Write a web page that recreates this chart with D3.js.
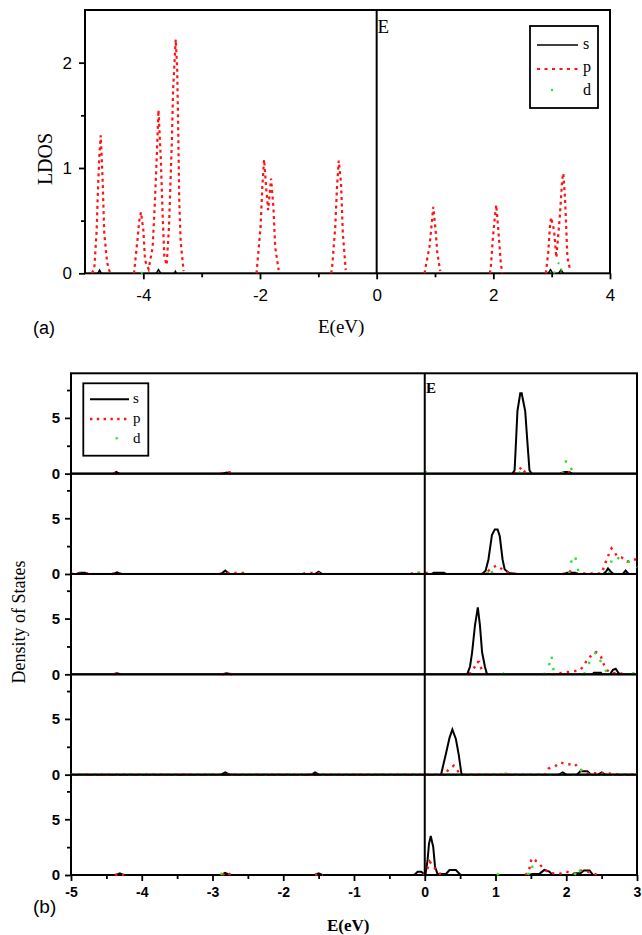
<!DOCTYPE html>
<html>
<head>
<meta charset="utf-8">
<script src="https://cdn.jsdelivr.net/npm/d3@7"></script>
<style>
  body { margin: 0; background: #fff; }
  svg { display: block; }
</style>
</head>
<body>
<div id="chart"></div>
<script>
// ---- panel (a) data: [E, LDOS] points, one array per peak segment ----
var ldosS = [
  [[-4.78, 0], [-4.75, 0.03], [-4.72, 0]],
  [[-3.78, 0], [-3.74, 0.035], [-3.70, 0]],
  [[-3.47, 0], [-3.45, 0.02], [-3.43, 0]],
  [[2.94, 0], [2.98, 0.035], [3.02, 0]],
  [[3.12, 0], [3.16, 0.035], [3.20, 0]]
];
var ldosP = [
  [[-4.88, 0], [-4.84, 0.05], [-4.80, 0.41], [-4.78, 0.76], [-4.755, 1.11], [-4.73, 1.31], [-4.70, 0.92], [-4.67, 0.38], [-4.62, 0.1], [-4.57, 0]],
  [[-4.16, 0], [-4.10, 0.32], [-4.07, 0.5], [-4.04, 0.58], [-4.00, 0.41], [-3.97, 0.12], [-3.91, 0.04], [-3.84, 0.25], [-3.80, 0.7], [-3.77, 1.11], [-3.74, 1.55], [-3.70, 1.08], [-3.67, 0.57], [-3.64, 0.16], [-3.60, 0.08], [-3.56, 0.44], [-3.51, 1.27], [-3.49, 1.74], [-3.445, 2.22], [-3.42, 1.95], [-3.40, 1.3], [-3.385, 0.7], [-3.36, 0.3], [-3.31, 0.02]],
  [[-2.06, 0], [-1.99, 0.44], [-1.96, 0.82], [-1.93, 1.08], [-1.89, 0.78], [-1.86, 0.6], [-1.81, 0.9], [-1.77, 0.63], [-1.74, 0.25], [-1.68, 0.03]],
  [[-0.78, 0], [-0.76, 0.08], [-0.71, 0.44], [-0.68, 0.82], [-0.65, 1.07], [-0.61, 0.85], [-0.58, 0.38], [-0.53, 0.03]],
  [[0.82, 0], [0.905, 0.25], [0.94, 0.45], [0.97, 0.63], [1.01, 0.41], [1.04, 0.19], [1.09, 0.02]],
  [[1.94, 0], [1.96, 0.08], [1.99, 0.32], [2.02, 0.5], [2.05, 0.65], [2.09, 0.38], [2.13, 0.08], [2.16, 0]],
  [[2.90, 0], [2.94, 0.19], [2.97, 0.44], [2.99, 0.53], [3.04, 0.41], [3.08, 0.15], [3.14, 0.54], [3.18, 0.89], [3.20, 0.95], [3.23, 0.7], [3.27, 0.15], [3.32, 0.02]]
];
var ldosD = [
  [[-4.04, 0], [-4.00, 0.015], [-3.96, 0]],
  [[3.04, 0], [3.09, 0.06], [3.13, 0.11], [3.17, 0.03], [3.20, 0]]
];

// ---- panel (b) data: five stacked DOS plots, top to bottom ----
var dosS = [
  [[[-4.40, 0], [-4.36, 0.15], [-4.32, 0]], [[-2.86, 0], [-2.80, 0.1], [-2.74, 0]],
   [[1.24, 0], [1.27, 0.3], [1.29, 2.9], [1.31, 5.6], [1.35, 7.2], [1.37, 7.2], [1.42, 5.6], [1.45, 2.9], [1.48, 0.3], [1.51, 0]],
   [[1.92, 0], [1.96, 0.15], [2.04, 0.15], [2.08, 0]]],
  [[[-4.92, 0], [-4.88, 0.1], [-4.80, 0.1], [-4.76, 0]], [[-4.40, 0], [-4.35, 0.15], [-4.30, 0]], [[-2.88, 0], [-2.82, 0.3], [-2.76, 0]],
   [[-1.55, 0], [-1.50, 0.2], [-1.45, 0]], [[0.10, 0], [0.13, 0.1], [0.27, 0.1], [0.30, 0]],
   [[0.81, 0], [0.86, 0.3], [0.90, 1.3], [0.95, 3.5], [0.99, 4.0], [1.03, 4.0], [1.06, 3.4], [1.10, 1.3], [1.13, 0.4], [1.19, 0.1], [1.30, 0]],
   [[1.98, 0], [2.01, 0.1], [2.13, 0.1], [2.16, 0]], [[2.52, 0], [2.56, 0.2], [2.59, 0.5], [2.63, 0.2], [2.67, 0]], [[2.80, 0], [2.84, 0.3], [2.88, 0]]],
  [[[-4.40, 0], [-4.35, 0.1], [-4.30, 0]], [[-2.86, 0], [-2.80, 0.1], [-2.74, 0]],
   [[0.60, 0], [0.64, 0.7], [0.67, 2.0], [0.71, 4.4], [0.75, 6.0], [0.78, 4.4], [0.81, 2.0], [0.85, 0.7], [0.88, 0]],
   [[2.37, 0], [2.39, 0.15], [2.49, 0.15], [2.51, 0]], [[2.62, 0], [2.66, 0.4], [2.70, 0.5], [2.74, 0.1], [2.78, 0]]],
  [[[-2.88, 0], [-2.82, 0.2], [-2.76, 0]], [[-1.60, 0], [-1.55, 0.2], [-1.50, 0]],
   [[0.23, 0], [0.30, 1.9], [0.35, 3.3], [0.39, 4.05], [0.44, 3.2], [0.48, 1.8], [0.52, 0]],
   [[1.90, 0], [1.95, 0.2], [2.00, 0]], [[2.15, 0], [2.20, 0.3], [2.30, 0.3], [2.35, 0]], [[2.45, 0], [2.50, 0.2], [2.55, 0]]],
  [[[-4.36, 0], [-4.31, 0.15], [-4.26, 0]], [[-2.88, 0], [-2.82, 0.2], [-2.76, 0]], [[-1.55, 0], [-1.50, 0.15], [-1.45, 0]],
   [[-0.15, 0], [-0.10, 0.3], [-0.05, 0.3], [0.01, 0], [0.04, 1.35], [0.06, 2.8], [0.085, 3.5], [0.12, 2.5], [0.145, 0.75], [0.18, 0.1], [0.30, 0.1], [0.35, 0.45], [0.44, 0.45], [0.50, 0.05], [0.52, 0]],
   [[1.48, 0], [1.52, 0.1], [1.62, 0.1], [1.69, 0.45], [1.76, 0.3], [1.80, 0.05], [1.82, 0]],
   [[2.08, 0], [2.12, 0.15], [2.20, 0.15], [2.25, 0.4], [2.33, 0.4], [2.38, 0]]]
];
var dosP = [
  [[[-4.40, 0], [-4.36, 0.1], [-4.30, 0]], [[-2.88, 0], [-2.82, 0.12], [-2.74, 0.12], [-2.70, 0]],
   [[1.26, 0], [1.30, 0.1], [1.37, 0.6], [1.42, 0.1], [1.47, 0.1], [1.50, 0]], [[1.92, 0], [1.97, 0.1], [2.04, 0.15], [2.08, 0]]],
  [[[-5.00, 0], [-4.95, 0.05], [-4.72, 0.05], [-4.68, 0]], [[-4.42, 0], [-4.35, 0.08], [-4.28, 0]], [[-2.90, 0], [-2.82, 0.1], [-2.55, 0.1], [-2.50, 0]],
   [[-1.72, 0], [-1.68, 0.1], [-1.50, 0.1], [-1.45, 0]], [[-0.20, 0], [-0.15, 0.1], [0.04, 0.1], [0.08, 0]],
   [[0.80, 0], [0.86, 0.05], [0.92, 0.4], [1.01, 0.75], [1.10, 0.4], [1.20, 0.05], [1.30, 0]],
   [[1.95, 0], [1.99, 0.05], [2.04, 0.3], [2.10, 0.05], [2.50, 0.05], [2.56, 1.1], [2.59, 1.6], [2.64, 2.3], [2.72, 1.6], [2.78, 1.5], [2.86, 1.1], [2.93, 1.3], [3.00, 1.3]]],
  [[[-4.40, 0], [-4.35, 0.08], [-4.30, 0]], [[-2.86, 0], [-2.80, 0.08], [-2.72, 0]],
   [[0.63, 0], [0.70, 0.6], [0.73, 1.1], [0.77, 1.1], [0.80, 0.5], [0.86, 0]],
   [[1.80, 0], [1.84, 0.05], [2.13, 0.3], [2.20, 0.4], [2.26, 0.9], [2.30, 1.4], [2.34, 1.6], [2.42, 2.0], [2.49, 1.6], [2.53, 0.9], [2.58, 0.35], [2.65, 0.1], [2.75, 0.15], [2.80, 0]]],
  [[[-5.00, 0], [0.28, 0], [0.34, 0.5], [0.41, 0.8], [0.47, 0.3], [0.52, 0], [1.70, 0], [1.75, 0.55], [1.84, 0.75], [1.92, 1.1], [2.02, 0.9], [2.12, 1.0], [2.18, 0.5], [2.30, 0.1], [2.50, 0.15], [2.70, 0.05], [3.00, 0]]],
  [[[-4.38, 0], [-4.32, 0.08], [-4.25, 0]], [[-2.86, 0], [-2.80, 0.25], [-2.74, 0]], [[-1.55, 0], [-1.50, 0.1], [-1.44, 0]],
   [[-0.02, 0], [0.04, 0.6], [0.07, 1.2], [0.12, 0.8], [0.16, 0.45], [0.22, 0.1], [0.30, 0]],
   [[1.42, 0], [1.47, 0.3], [1.51, 1.5], [1.59, 1.2], [1.66, 0.7], [1.75, 0.2], [1.90, 0.1], [2.00, 0.3], [2.10, 0.1], [2.20, 0.4], [2.30, 0.3], [2.40, 0.1], [2.45, 0]]]
];
var dosD = [
  [[[0.00, 0], [0.02, 0.12], [0.04, 0]], [[1.33, 0], [1.37, 0.3], [1.41, 0]], [[1.95, 0], [2.00, 1.2], [2.07, 0.45], [2.10, 0]]],
  [[[-0.10, 0], [-0.07, 0.4], [-0.04, 0]], [[0.88, 0], [0.92, 0.6], [0.96, 0]], [[2.04, 0], [2.08, 1.4], [2.12, 1.7], [2.14, 1.2], [2.18, 0]],
   [[2.60, 0], [2.65, 1.5], [2.70, 1.6], [2.78, 1.2], [2.85, 1.1], [2.92, 1.1], [2.98, 0.8], [3.00, 0.6]]],
  [[[1.10, 0], [1.13, 0.15], [1.16, 0]], [[1.67, 0], [1.70, 0.1], [1.75, 0.6], [1.79, 1.7], [1.83, 0]],
   [[2.25, 0], [2.33, 1.1], [2.42, 2.0], [2.50, 1.0], [2.55, 0.4], [2.60, 0]], [[2.94, 0], [2.97, 0.45], [3.00, 0.2]]],
  [[[-5.00, 0], [1.10, 0], [1.15, 0.1], [1.20, 0], [2.15, 0], [2.20, 0.5], [2.25, 0], [3.00, 0]]],
  [[[-2.88, 0], [-2.85, 0.4], [-2.82, 0]], [[1.02, 0], [1.05, 0.15], [1.08, 0]], [[1.46, 0], [1.51, 0.9], [1.56, 0]], [[2.12, 0], [2.17, 0.7], [2.22, 0]]]
];

// ---- tick values and labels ----
var aTicksX = [-4, -2, 0, 2, 4];
var aMinorX = [-3, -1, 1, 3];
var aTicksY = [0, 1, 2];
var aMinorY = [0.5, 1.5];
var bTicksX = [-5, -4, -3, -2, -1, 0, 1, 2, 3];
var bMinorX = [-4.5, -3.5, -2.5, -1.5, -0.5, 0.5, 1.5, 2.5];
var bTicksY = [0, 5];
var bMinorY = [2.5, 7.5];
var legendNames = ["s", "p", "d"];

var RED = "#ff1414", GREEN = "#2fe02f";
var serif = "'Liberation Serif', 'Times New Roman', serif";
var sans = "'Liberation Sans', Arial, sans-serif";

var svg = d3.select("#chart")
  .append("svg")
  .attr("width", 642)
  .attr("height", 935);

// draw a styled axis and strip its domain line
function drawAxis(g, axis, font, size, weight) {
  g.call(axis);
  g.select(".domain").remove();
  g.selectAll(".tick line").attr("stroke", "#000").attr("stroke-width", 1.8);
  g.selectAll(".tick text")
    .attr("fill", "#000")
    .style("font-family", font)
    .style("font-size", size + "px")
    .style("font-weight", weight || "normal");
}

// =========== panel (a) ===========
var ax = d3.scaleLinear().domain([-5, 4]).range([85, 610]);
var ay = d3.scaleLinear().domain([0, 2.5]).range([273.3, 10]);

var aLine = d3.line().x(d => ax(d[0])).y(d => ay(d[1]));

drawAxis(svg.append("g").attr("transform", "translate(0,273.3)"),
  d3.axisBottom(ax).tickValues(aTicksX).tickSize(6).tickPadding(10).tickFormat(d => String(d)), sans, 17);
drawAxis(svg.append("g").attr("transform", "translate(0,273.3)"),
  d3.axisBottom(ax).tickValues(aMinorX).tickSize(4).tickFormat(""), sans, 17);
drawAxis(svg.append("g").attr("transform", "translate(85,0)"),
  d3.axisLeft(ay).tickValues(aTicksY).tickSize(6).tickPadding(7).tickFormat(d => String(d)), sans, 17);
drawAxis(svg.append("g").attr("transform", "translate(85,0)"),
  d3.axisLeft(ay).tickValues(aMinorY).tickSize(4).tickFormat(""), sans, 17);

// frame and fermi line
svg.append("rect")
  .attr("x", ax(-5)).attr("y", ay(2.5))
  .attr("width", ax(4) - ax(-5)).attr("height", ay(0) - ay(2.5))
  .attr("fill", "none").attr("stroke", "#000").attr("stroke-width", 2);
svg.append("line")
  .attr("x1", ax(0)).attr("x2", ax(0)).attr("y1", ay(2.5)).attr("y2", ay(0))
  .attr("stroke", "#000").attr("stroke-width", 2);

var aG = svg.append("g");
aG.selectAll(".s").data(ldosS).enter().append("path")
  .attr("d", aLine).attr("fill", "none").attr("stroke", "#000").attr("stroke-width", 1.5);
aG.selectAll(".p").data(ldosP).enter().append("path")
  .attr("d", aLine).attr("fill", "none").attr("stroke", RED)
  .attr("stroke-width", 2.2).attr("stroke-dasharray", "3,3.5");
aG.selectAll(".d").data(ldosD).enter().append("path")
  .attr("d", aLine).attr("fill", "none").attr("stroke", GREEN)
  .attr("stroke-width", 2).attr("stroke-dasharray", "2,8");

// labels
svg.append("text")
  .attr("transform", "translate(52,159) rotate(-90)")
  .attr("text-anchor", "middle")
  .style("font-family", serif).style("font-size", "20px")
  .text("LDOS");
svg.append("text").attr("x", 377.5).attr("y", 33)
  .style("font-family", serif).style("font-size", "19px").text("E");
svg.append("text").attr("x", 318).attr("y", 333)
  .style("font-family", serif).style("font-size", "19px").text("E(eV)");
svg.append("text").attr("x", 33).attr("y", 334)
  .style("font-family", sans).style("font-size", "18px").text("(a)");

// legend (a)
var legA = svg.append("g");
legA.append("rect").attr("x", 530).attr("y", 26).attr("width", 68).attr("height", 82)
  .attr("fill", "#fff").attr("stroke", "#000").attr("stroke-width", 1.8);
legA.append("line").attr("x1", 537).attr("x2", 578).attr("y1", 45).attr("y2", 45)
  .attr("stroke", "#000").attr("stroke-width", 1.5);
legA.append("line").attr("x1", 537).attr("x2", 578).attr("y1", 69).attr("y2", 69)
  .attr("stroke", RED).attr("stroke-width", 2.2).attr("stroke-dasharray", "3,4.5");
legA.append("circle").attr("cx", 552).attr("cy", 90).attr("r", 1.2).attr("fill", GREEN);
legA.selectAll("text").data(legendNames).enter().append("text")
  .attr("x", 583).attr("y", (d, i) => 49 + i * 23)
  .style("font-family", serif).style("font-size", "16px")
  .text(d => d);

// =========== panel (b) ===========
var bTop = 373.3, bH = 100.34;
var bx = d3.scaleLinear().domain([-5, 3]).range([71, 637]);

dosS.forEach(function (sPanel, i) {
  var zero = bTop + (i + 1) * bH;
  var by = d3.scaleLinear().domain([0, 9]).range([zero, zero - bH]);
  var bLine = d3.line().x(d => bx(d[0])).y(d => by(d[1]));

  drawAxis(svg.append("g").attr("transform", "translate(71,0)"),
    d3.axisLeft(by).tickValues(bTicksY).tickSize(6).tickPadding(5).tickFormat(d => String(d)), sans, 15, "bold");
  drawAxis(svg.append("g").attr("transform", "translate(71,0)"),
    d3.axisLeft(by).tickValues(bMinorY).tickSize(4).tickFormat(""), sans, 15);

  // sub-panel frame
  svg.append("rect")
    .attr("x", bx(-5)).attr("y", zero - bH)
    .attr("width", bx(3) - bx(-5)).attr("height", bH)
    .attr("fill", "none").attr("stroke", "#000").attr("stroke-width", 2);

  var g = svg.append("g");
  g.selectAll(".s").data(sPanel).enter().append("path")
    .attr("d", bLine).attr("fill", "none").attr("stroke", "#000").attr("stroke-width", 2);
  g.selectAll(".p").data(dosP[i]).enter().append("path")
    .attr("d", bLine).attr("fill", "none").attr("stroke", RED)
    .attr("stroke-width", 2.4).attr("stroke-dasharray", "2.4,5");
  g.selectAll(".d").data(dosD[i]).enter().append("path")
    .attr("d", bLine).attr("fill", "none").attr("stroke", GREEN)
    .attr("stroke-width", 2.4).attr("stroke-dasharray", "2.4,9");
});

// x axis of the bottom plot
var bBottom = bTop + 5 * bH;
drawAxis(svg.append("g").attr("transform", "translate(0," + bBottom + ")"),
  d3.axisBottom(bx).tickValues(bTicksX).tickSize(6).tickPadding(6).tickFormat(d => String(d)), sans, 14, "bold");
drawAxis(svg.append("g").attr("transform", "translate(0," + bBottom + ")"),
  d3.axisBottom(bx).tickValues(bMinorX).tickSize(4).tickFormat(""), sans, 14);

// fermi level line across all sub-plots
svg.append("line")
  .attr("x1", bx(0)).attr("x2", bx(0)).attr("y1", bTop).attr("y2", bBottom)
  .attr("stroke", "#000").attr("stroke-width", 2);

svg.append("text")
  .attr("transform", "translate(25,622) rotate(-90)")
  .attr("text-anchor", "middle")
  .style("font-family", serif).style("font-size", "18px")
  .text("Density of States");
svg.append("text").attr("x", 426).attr("y", 393)
  .style("font-family", serif).style("font-size", "15px").style("font-weight", "bold").text("E");
svg.append("text").attr("x", 327).attr("y", 931)
  .style("font-family", serif).style("font-size", "17px").style("font-weight", "bold").text("E(eV)");
svg.append("text").attr("x", 33).attr("y", 913)
  .style("font-family", sans).style("font-size", "19px").text("(b)");

// legend (b)
var legB = svg.append("g");
legB.append("rect").attr("x", 83.3).attr("y", 383.3).attr("width", 65).attr("height", 72.4)
  .attr("fill", "#fff").attr("stroke", "#000").attr("stroke-width", 1.8);
legB.append("line").attr("x1", 90).attr("x2", 129).attr("y1", 399.3).attr("y2", 399.3)
  .attr("stroke", "#000").attr("stroke-width", 2);
legB.append("line").attr("x1", 90).attr("x2", 129).attr("y1", 419).attr("y2", 419)
  .attr("stroke", RED).attr("stroke-width", 2.4).attr("stroke-dasharray", "2.4,4.4");
legB.append("circle").attr("cx", 116.7).attr("cy", 438.3).attr("r", 1.2).attr("fill", GREEN);
legB.selectAll("text").data(legendNames).enter().append("text")
  .attr("x", 133).attr("y", (d, i) => 403 + i * 20)
  .style("font-family", serif).style("font-size", "15px")
  .text(d => d);
</script>
</body>
</html>
